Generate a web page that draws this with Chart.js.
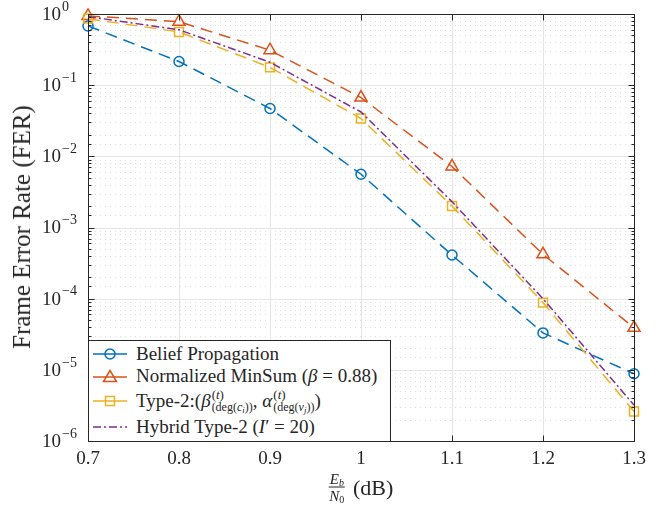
<!DOCTYPE html>
<html>
<head>
<meta charset="utf-8">
<script src="https://cdn.jsdelivr.net/npm/chart.js@4"></script>
<style>
  body { margin: 0; background: #fff; }
  #wrap { position: relative; width: 665px; height: 510px; font-family: "Liberation Serif", serif; color: #262626; }
  #chart { position: absolute; left: 0; top: 0; }
  #ytitle { position: absolute; left: 22px; top: 227px; transform: translate(-50%, -50%) rotate(-90deg); font-size: 25px; white-space: nowrap; }
  #xtitle { position: absolute; left: 361px; top: 487px; transform: translate(-50%, -50%); font-size: 22px; white-space: nowrap; display: flex; align-items: center; }
  .frac { display: inline-flex; flex-direction: column; align-items: center; font-size: 15px; line-height: 14px; margin-right: 8px; }
  .frac .num { border-bottom: 1px solid #262626; padding: 0 1px 1px; }
  .frac .den { padding-top: 1px; }
  .frac sub { font-size: 10px; vertical-align: -2px; line-height: 0; }
  #legend { position: absolute; left: 88px; top: 340px; width: 301px; height: 100px; background: #fff; border: 1px solid #262626; font-size: 19px; }
  .row { position: absolute; left: 0; display: flex; align-items: center; white-space: nowrap; transform: translateY(-50%); }
  .row svg { margin-left: 4px; margin-right: 9px; }
  .ss { display: inline-flex; flex-direction: column; vertical-align: middle; font-size: 13px; line-height: 13px; margin-left: 1px; }
  .ss .lo { font-size: 12px; }
  .ss sub { font-size: 9px; vertical-align: -2px; line-height: 0; }
</style>
</head>
<body>
<div id="wrap">
  <canvas id="chart" width="665" height="510"></canvas>
  <div id="ytitle">Frame Error Rate (FER)</div>
  <div id="xtitle"><span class="frac"><span class="num"><i>E</i><sub><i>b</i></sub></span><span class="den"><i>N</i><sub>0</sub></span></span>(dB)</div>
  <div id="legend">
    <div class="row" style="top:13px"><svg width="34" height="14"><line x1="0" y1="7" x2="34" y2="7" stroke="#0072BD" stroke-width="1.5"/><circle cx="17" cy="7" r="5" fill="none" stroke="#0072BD" stroke-width="1.5"/></svg><span>Belief Propagation</span></div>
    <div class="row" style="top:35px"><svg width="34" height="14"><line x1="0" y1="8" x2="34" y2="8" stroke="#D95319" stroke-width="1.5"/><polygon points="17,1.5 23.5,12.5 10.5,12.5" fill="none" stroke="#D95319" stroke-width="1.5"/></svg><span>Normalized MinSum (<i>β</i> = 0.88)</span></div>
    <div class="row" style="top:60px"><svg width="34" height="14"><line x1="0" y1="7" x2="34" y2="7" stroke="#EDB120" stroke-width="1.5"/><rect x="12.5" y="2.5" width="9" height="9" fill="none" stroke="#EDB120" stroke-width="1.5"/></svg><span>Type-2:(<i>β</i></span><span class="ss"><span>(<i>t</i>)</span><span class="lo">(deg(<i>c</i><sub><i>i</i></sub>))</span></span><span>, <i>α</i></span><span class="ss"><span>(<i>t</i>)</span><span class="lo">(deg(<i>v</i><sub><i>j</i></sub>))</span></span><span>)</span></div>
    <div class="row" style="top:86px"><svg width="34" height="14"><line x1="0" y1="7" x2="34" y2="7" stroke="#7E2F8E" stroke-width="1.5" stroke-dasharray="8,3,2,3"/></svg><span>Hybrid Type-2 (<i>I</i>′ = 20)</span></div>
  </div>
</div>
<script>
// Eb/N0 values (dB)
const ebn0 = [0.7, 0.8, 0.9, 1.0, 1.1, 1.2, 1.3];

// FER
const beliefProp = [0.68, 0.215, 0.047, 0.0056, 4.1e-4, 3.3e-5, 8.8e-6];
const normMinSum = [0.94, 0.78, 0.31, 0.067, 0.0072, 4.2e-4, 3.9e-5];
const type2 = [0.86, 0.56, 0.178, 0.034, 0.0020, 8.8e-5, 2.6e-6];
const hybridType2 = [0.92, 0.60, 0.21, 0.042, 0.0023, 1.0e-4, 3.2e-6];

// tick labels
const xTicks = [0.7, 0.8, 0.9, 1.0, 1.1, 1.2, 1.3];
const xTickLabels = ['0.7', '0.8', '0.9', '1', '1.1', '1.2', '1.3'];
const yTickExps = [0, -1, -2, -3, -4, -5, -6];

const AXIS_COLOR = '#262626';
const FONT = '"Liberation Serif", serif';

function toPoints(ys) {
    return ebn0.map((x, i) => ({ x: x, y: ys[i] }));
}

function isDecade(v) {
    const e = Math.log10(v);
    return Math.abs(e - Math.round(e)) < 1e-6;
}

// grid, box, ticks and tick labels in MATLAB style
const matlabAxes = {
    id: 'matlabAxes',
    beforeDatasetsDraw(chart) {
        const ctx = chart.ctx;
        const a = chart.chartArea;
        const xs = chart.scales.x, ys = chart.scales.y;
        ctx.save();
        ctx.lineWidth = 1;
        // minor dotted horizontal lines
        ctx.strokeStyle = '#dddddd';
        ctx.setLineDash([1, 4]);
        ys.ticks.forEach(t => {
            if (isDecade(t.value)) return;
            const y = Math.round(ys.getPixelForValue(t.value)) + 0.5;
            ctx.beginPath();
            ctx.moveTo(a.left + 2, y);
            ctx.lineTo(a.right, y);
            ctx.stroke();
        });
        // major lines
        ctx.setLineDash([]);
        ctx.strokeStyle = '#e6e6e6';
        yTickExps.forEach(e => {
            const y = Math.round(ys.getPixelForValue(Math.pow(10, e))) + 0.5;
            ctx.beginPath();
            ctx.moveTo(a.left, y);
            ctx.lineTo(a.right, y);
            ctx.stroke();
        });
        xTicks.forEach(v => {
            const x = Math.round(xs.getPixelForValue(v)) + 0.5;
            ctx.beginPath();
            ctx.moveTo(x, a.top);
            ctx.lineTo(x, a.bottom);
            ctx.stroke();
        });
        ctx.restore();
    },
    afterDraw(chart) {
        const ctx = chart.ctx;
        const a = chart.chartArea;
        const xs = chart.scales.x, ys = chart.scales.y;
        ctx.save();
        ctx.strokeStyle = AXIS_COLOR;
        ctx.lineWidth = 1;
        const L = Math.round(a.left) + 0.5, R = Math.round(a.right) + 0.5;
        const T = Math.round(a.top) + 0.5, B = Math.round(a.bottom) + 0.5;
        ctx.strokeRect(L, T, R - L, B - T);
        ctx.beginPath();
        xTicks.forEach(v => {
            const x = Math.round(xs.getPixelForValue(v)) + 0.5;
            ctx.moveTo(x, B); ctx.lineTo(x, B - 6);
            ctx.moveTo(x, T); ctx.lineTo(x, T + 6);
        });
        ys.ticks.forEach(t => {
            const len = isDecade(t.value) ? 6 : 3;
            const y = Math.round(ys.getPixelForValue(t.value)) + 0.5;
            ctx.moveTo(L, y); ctx.lineTo(L + len, y);
            ctx.moveTo(R, y); ctx.lineTo(R - len, y);
        });
        ctx.stroke();

        ctx.fillStyle = AXIS_COLOR;
        ctx.font = '19px ' + FONT;
        ctx.textAlign = 'center';
        ctx.textBaseline = 'middle';
        xTicks.forEach((v, i) => {
            ctx.fillText(xTickLabels[i], xs.getPixelForValue(v), a.bottom + 18);
        });
        yTickExps.forEach(e => {
            const y = ys.getPixelForValue(Math.pow(10, e));
            ctx.font = '19px ' + FONT;
            ctx.textAlign = 'right';
            ctx.fillText('10', 61, y + 1);
            ctx.font = '14px ' + FONT;
            ctx.textAlign = 'left';
            ctx.fillText(e === 0 ? '0' : '\u2212' + Math.abs(e), 62, y - 7);
        });
        ctx.restore();
    }
};

const lineBase = {
    fill: false,
    tension: 0,
    borderWidth: 1.5,
    pointRadius: 5,
    pointBorderWidth: 1.5,
    pointBackgroundColor: 'rgba(0,0,0,0)',
    clip: false
};

new Chart(document.getElementById('chart'), {
    type: 'line',
    data: {
        datasets: [
            Object.assign({}, lineBase, {
                label: 'Belief Propagation',
                data: toPoints(beliefProp),
                borderColor: '#0072BD',
                pointBorderColor: '#0072BD',
                borderDash: [12, 7],
                pointStyle: 'circle',
                order: 4
            }),
            Object.assign({}, lineBase, {
                label: 'Normalized MinSum',
                data: toPoints(normMinSum),
                borderColor: '#D95319',
                pointBorderColor: '#D95319',
                borderDash: [12, 7],
                pointStyle: 'triangle',
                pointRadius: 7,
                order: 3
            }),
            Object.assign({}, lineBase, {
                label: 'Type-2',
                data: toPoints(type2),
                borderColor: '#EDB120',
                pointBorderColor: '#EDB120',
                borderDash: [12, 7],
                pointStyle: 'rect',
                pointRadius: 6.3,
                order: 2
            }),
            Object.assign({}, lineBase, {
                label: 'Hybrid Type-2',
                data: toPoints(hybridType2),
                borderColor: '#7E2F8E',
                borderDash: [8, 3, 2, 3],
                pointRadius: 0,
                order: 1
            })
        ]
    },
    options: {
        responsive: false,
        animation: false,
        events: [],
        layout: { padding: { left: 88, right: 31, top: 14, bottom: 69 } },
        plugins: { legend: { display: false }, tooltip: { enabled: false } },
        scales: {
            x: {
                type: 'linear', min: 0.7, max: 1.3,
                ticks: { display: false, stepSize: 0.1 },
                grid: { display: false, drawTicks: false },
                border: { display: false }
            },
            y: {
                type: 'logarithmic', min: 1e-6, max: 1,
                ticks: { display: false },
                grid: { display: false, drawTicks: false },
                border: { display: false }
            }
        }
    },
    plugins: [matlabAxes]
});
</script>
</body>
</html>
